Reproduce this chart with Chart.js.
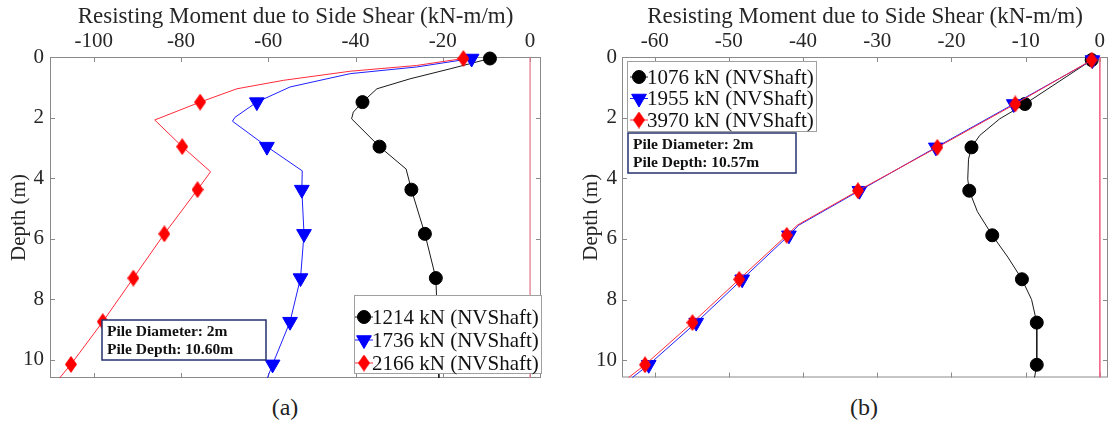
<!DOCTYPE html>
<html>
<head>
<meta charset="utf-8">
<script src="https://cdn.jsdelivr.net/npm/chart.js@4.4.1/dist/chart.umd.min.js"></script>
<style>
  html, body { margin: 0; padding: 0; background: #fff; }
  #page { position: relative; width: 1110px; height: 433px; overflow: hidden; background: #fff; }
  .panel { position: absolute; top: 0; width: 555px; height: 386px; }
  #panelA { left: 0; }
  #panelB { left: 555px; }
  .caption { position: absolute; top: 394px; font-family: "Liberation Serif", serif; font-size: 24px; color: #222; transform: translateX(-50%); }
</style>
</head>
<body>
<div id="page">
  <div class="panel" id="panelA"><canvas id="chartA" width="555" height="386"></canvas></div>
  <div class="panel" id="panelB"><canvas id="chartB" width="555" height="386"></canvas></div>
  <div class="caption" style="left:285px">(a)</div>
  <div class="caption" style="left:864px">(b)</div>
</div>
<script>
// ---- panel (a): pile 10.60 m ----
const markDepthA = [0.05, 1.49, 2.96, 4.38, 5.84, 7.3, 8.74, 10.15];
const depth1214 = [0.05, 0.39, 0.72, 1.05, 1.49, 1.82, 2.04, 2.96, 3.7, 4.38, 5.84, 7.3, 8.74, 10.15, 10.6];
const moment1214 = [-9.2, -18.3, -27.5, -35.1, -38.4, -40.5, -40.9, -34.5, -28.4, -27.2, -24.1, -21.6, -21.2, -21.0, -20.9];
const depth1736 = [0.05, 0.33, 0.55, 0.99, 1.49, 1.99, 2.12, 2.96, 3.76, 4.38, 5.84, 7.3, 8.74, 10.15, 10.6];
const moment1736 = [-13.4, -26, -41.2, -55, -62.6, -67.6, -68.2, -60.3, -52.2, -52.3, -51.8, -52.6, -55.0, -59.0, -60.2];
const depth2166 = [0.05, 0.28, 0.47, 0.77, 1.05, 1.49, 2.08, 2.96, 3.79, 4.38, 5.84, 7.3, 8.74, 10.15, 10.6];
const moment2166 = [-15.3, -26, -41.2, -56.5, -67.2, -75.6, -86, -79.7, -73.2, -76.2, -83.8, -90.9, -97.9, -105.2, -107.8];
const depthRangeA = [0, 10.6];
const momentRangeA = [-110, 2.5];
const momentTicksA = [-100, -80, -60, -40, -20, 0];
const labelsA = ['1214 kN (NVShaft)', '1736 kN (NVShaft)', '2166 kN (NVShaft)'];
const pileA = ['Pile Diameter: 2m', 'Pile Depth: 10.60m'];

// ---- panel (b): pile 10.57 m ----
const markDepthB = [0.1, 1.55, 2.98, 4.41, 5.88, 7.33, 8.76, 10.15];
const depth1076 = [0.1, 1.55, 2.04, 2.59, 2.98, 3.37, 4.03, 4.41, 5.1, 5.88, 6.6, 7.33, 8.0, 8.76, 10.15, 10.57];
const moment1076 = [-1.1, -10.1, -13.5, -16.2, -17.3, -17.7, -17.8, -17.6, -16.5, -14.5, -12.4, -10.5, -9.2, -8.5, -8.5, -8.8];
const depth1955 = [0.1, 1.55, 2.98, 4.41, 5.55, 5.88, 7.33, 8.76, 10.15, 10.57];
const moment1955 = [-1.0, -11.6, -22.1, -32.4, -40.6, -41.9, -48.2, -54.4, -60.8, -63.0];
const depth3970 = [0.1, 1.55, 2.98, 4.41, 5.55, 5.88, 7.33, 8.76, 10.15, 10.57];
const moment3970 = [-1.1, -11.4, -21.9, -32.6, -40.8, -42.2, -48.6, -54.9, -61.3, -63.5];
const depthRangeB = [0, 10.57];
const momentRangeB = [-64.4, 1.1];
const momentTicksB = [-60, -50, -40, -30, -20, -10, 0];
const labelsB = ['1076 kN (NVShaft)', '1955 kN (NVShaft)', '3970 kN (NVShaft)'];
const pileB = ['Pile Diameter: 2m', 'Pile Depth: 10.57m'];

const depthTicks = [0, 2, 4, 6, 8, 10];
const FONT = '"Liberation Serif", "Times New Roman", serif';
const INK = '#262626';

// tall diamond marker (matlab 'd' style)
function makeDiamond(w, h, color) {
  const c = document.createElement('canvas');
  c.width = w;
  c.height = h;
  const g = c.getContext('2d');
  g.fillStyle = color;
  g.beginPath();
  g.moveTo(w / 2, 0);
  g.lineTo(w, h / 2);
  g.lineTo(w / 2, h);
  g.lineTo(0, h / 2);
  g.closePath();
  g.fill();
  return c;
}

const styles = [
  { color: '#000000', line: '#1a1a1a', pointStyle: 'circle', radius: 6.5, rotation: 0, order: 2 },
  { color: '#0000ff', line: '#1f1fff', pointStyle: 'triangle', radius: 8.5, rotation: 180, order: 1 },
  { color: '#ff0000', line: '#ff2a3a', pointStyle: makeDiamond(12, 17, '#ff0000'), radius: 8, rotation: 0, order: 0 }
];

function series(label, depth, moment, marks, st) {
  return {
    label,
    data: depth.map((d, i) => ({ x: moment[i], y: d })),
    showLine: true,
    borderColor: st.line,
    borderWidth: 1,
    backgroundColor: st.color,
    pointBackgroundColor: st.color,
    pointBorderColor: st.color,
    pointBorderWidth: 1,
    pointStyle: st.pointStyle,
    pointRotation: st.rotation,
    pointRadius: depth.map(d => marks.includes(d) ? st.radius : 0),
    pointHoverRadius: 0,
    clip: false,
    order: st.order,
    legendStyle: st
  };
}

// vertical line at zero moment
function zeroLine(range, color) {
  return {
    data: range.map(d => ({ x: 0, y: d })),
    showLine: true,
    borderColor: color,
    borderWidth: 1,
    pointRadius: 0,
    order: 3
  };
}

// box around the plot with inward tick marks on all four sides
const frame = {
  id: 'frame',
  beforeDatasetsDraw(chart) {
    const { ctx, chartArea: a, scales: { x, y } } = chart;
    ctx.save();
    ctx.strokeStyle = '#8a8a8a';
    ctx.lineWidth = 1;
    ctx.strokeRect(a.left + 0.5, a.top + 0.5, a.right - a.left - 1, a.bottom - a.top - 1);
    ctx.beginPath();
    x.ticks.forEach(t => {
      const px = Math.round(x.getPixelForValue(t.value)) + 0.5;
      ctx.moveTo(px, a.top); ctx.lineTo(px, a.top + 5);
      ctx.moveTo(px, a.bottom); ctx.lineTo(px, a.bottom - 5);
    });
    y.ticks.forEach(t => {
      const py = Math.round(y.getPixelForValue(t.value)) + 0.5;
      ctx.moveTo(a.left, py); ctx.lineTo(a.left + 5, py);
      ctx.moveTo(a.right, py); ctx.lineTo(a.right - 5, py);
    });
    ctx.stroke();
    ctx.restore();
  }
};

// matlab style legend: white box, short line + marker, label
const legendBox = {
  id: 'legendBox',
  afterDatasetsDraw(chart, args, o) {
    const ctx = chart.ctx;
    ctx.save();
    ctx.fillStyle = '#ffffff';
    ctx.fillRect(o.x, o.y, o.w, o.h);
    ctx.strokeStyle = '#a0a0a0';
    ctx.lineWidth = 1;
    ctx.strokeRect(o.x + 0.5, o.y + 0.5, o.w, o.h);
    ctx.font = '21px ' + FONT;
    ctx.textBaseline = 'middle';
    chart.data.datasets.filter(ds => ds.label).forEach((ds, i) => {
      const st = ds.legendStyle;
      const cy = o.y + o.first + i * o.row;
      ctx.strokeStyle = st.line;
      ctx.beginPath();
      ctx.moveTo(o.mark - 9, cy);
      ctx.lineTo(o.mark + 9, cy);
      ctx.stroke();
      ctx.fillStyle = st.color;
      ctx.strokeStyle = st.color;
      Chart.helpers.drawPoint(ctx, { pointStyle: st.pointStyle, radius: st.radius, rotation: st.rotation, borderWidth: 1 }, o.mark, cy);
      ctx.fillStyle = '#111';
      ctx.fillText(ds.label, o.text, cy + 1);
    });
    ctx.restore();
  }
};

// text box with the pile geometry
const pileBox = {
  id: 'pileBox',
  afterDatasetsDraw(chart, args, o) {
    const ctx = chart.ctx;
    ctx.save();
    ctx.fillStyle = '#ffffff';
    ctx.fillRect(o.x, o.y, o.w, o.h);
    ctx.strokeStyle = '#26306e';
    ctx.lineWidth = 1.5;
    ctx.strokeRect(o.x, o.y, o.w, o.h);
    ctx.font = 'bold 15.5px ' + FONT;
    ctx.textBaseline = 'middle';
    ctx.fillStyle = '#111';
    o.lines.forEach((t, i) => ctx.fillText(t, o.x + 5, o.y + o.first + i * o.row));
    ctx.restore();
  }
};

function makeChart(id, datasets, depthRange, momentRange, momentTicks, cfg) {
  return new Chart(document.getElementById(id), {
    type: 'scatter',
    data: { datasets },
    options: {
      responsive: false,
      animation: false,
      events: [],
      layout: { autoPadding: false, padding: { left: 0, top: 0, right: cfg.right, bottom: cfg.bottom } },
      plugins: {
        legend: { display: false },
        tooltip: { enabled: false },
        legendBox: cfg.legend,
        pileBox: cfg.pile
      },
      scales: {
        x: {
          type: 'linear',
          position: 'top',
          min: momentRange[0],
          max: momentRange[1],
          grid: { display: false, drawTicks: false },
          border: { display: false },
          afterBuildTicks: s => { s.ticks = momentTicks.map(v => ({ value: v })); },
          ticks: {
            autoSkip: false,
            maxRotation: 0,
            padding: 3,
            color: INK,
            font: { family: FONT, size: 21 },
            callback: v => String(v)
          },
          title: {
            display: true,
            text: 'Resisting Moment due to Side Shear (kN-m/m)',
            color: INK,
            font: { family: FONT, size: 23 },
            padding: { top: 3, bottom: 0 }
          },
          // fixed band height; end labels may hang past the plot edge
          afterFit: s => { s.height = cfg.top; s.paddingLeft = 0; s.paddingRight = 0; }
        },
        y: {
          type: 'linear',
          position: 'left',
          reverse: true,
          min: depthRange[0],
          max: depthRange[1],
          grid: { display: false, drawTicks: false },
          border: { display: false },
          afterBuildTicks: s => { s.ticks = depthTicks.map(v => ({ value: v })); },
          ticks: {
            autoSkip: false,
            padding: cfg.yPad,
            color: INK,
            font: { family: FONT, size: 21 },
            callback: v => String(v)
          },
          title: {
            display: true,
            text: 'Depth (m)',
            color: INK,
            font: { family: FONT, size: 21 },
            padding: { top: cfg.yTitle, bottom: 0 }
          },
          afterFit: s => { s.width = cfg.left; s.paddingTop = 0; s.paddingBottom = 0; }
        }
      }
    },
    plugins: [frame, legendBox, pileBox]
  });
}

makeChart('chartA', [
  series(labelsA[0], depth1214, moment1214, markDepthA, styles[0]),
  series(labelsA[1], depth1736, moment1736, markDepthA, styles[1]),
  series(labelsA[2], depth2166, moment2166, markDepthA, styles[2]),
  zeroLine(depthRangeA, 'rgba(225,120,140,0.55)')
], depthRangeA, momentRangeA, momentTicksA, {
  left: 50, top: 57, right: 14, bottom: 8, yPad: 6, yTitle: 7,
  legend: { x: 354, y: 295, w: 187, h: 78, first: 22, row: 23, mark: 364, text: 372 },
  pile: { x: 102, y: 320, w: 164, h: 40, first: 11.5, row: 18, lines: pileA }
});

makeChart('chartB', [
  series(labelsB[0], depth1076, moment1076, markDepthB, styles[0]),
  series(labelsB[1], depth1955, moment1955, markDepthB, styles[1]),
  series(labelsB[2], depth3970, moment3970, markDepthB, styles[2]),
  zeroLine(depthRangeB, '#f06a8a')
], depthRangeB, momentRangeB, momentTicksB, {
  left: 67, top: 57, right: 2, bottom: 8.5, yPad: 5, yTitle: 24,
  legend: { x: 72, y: 61, w: 189, h: 70, first: 16, row: 21.5, mark: 84, text: 92 },
  pile: { x: 73, y: 133, w: 168, h: 40, first: 11.5, row: 18, lines: pileB }
});
</script>
</body>
</html>
